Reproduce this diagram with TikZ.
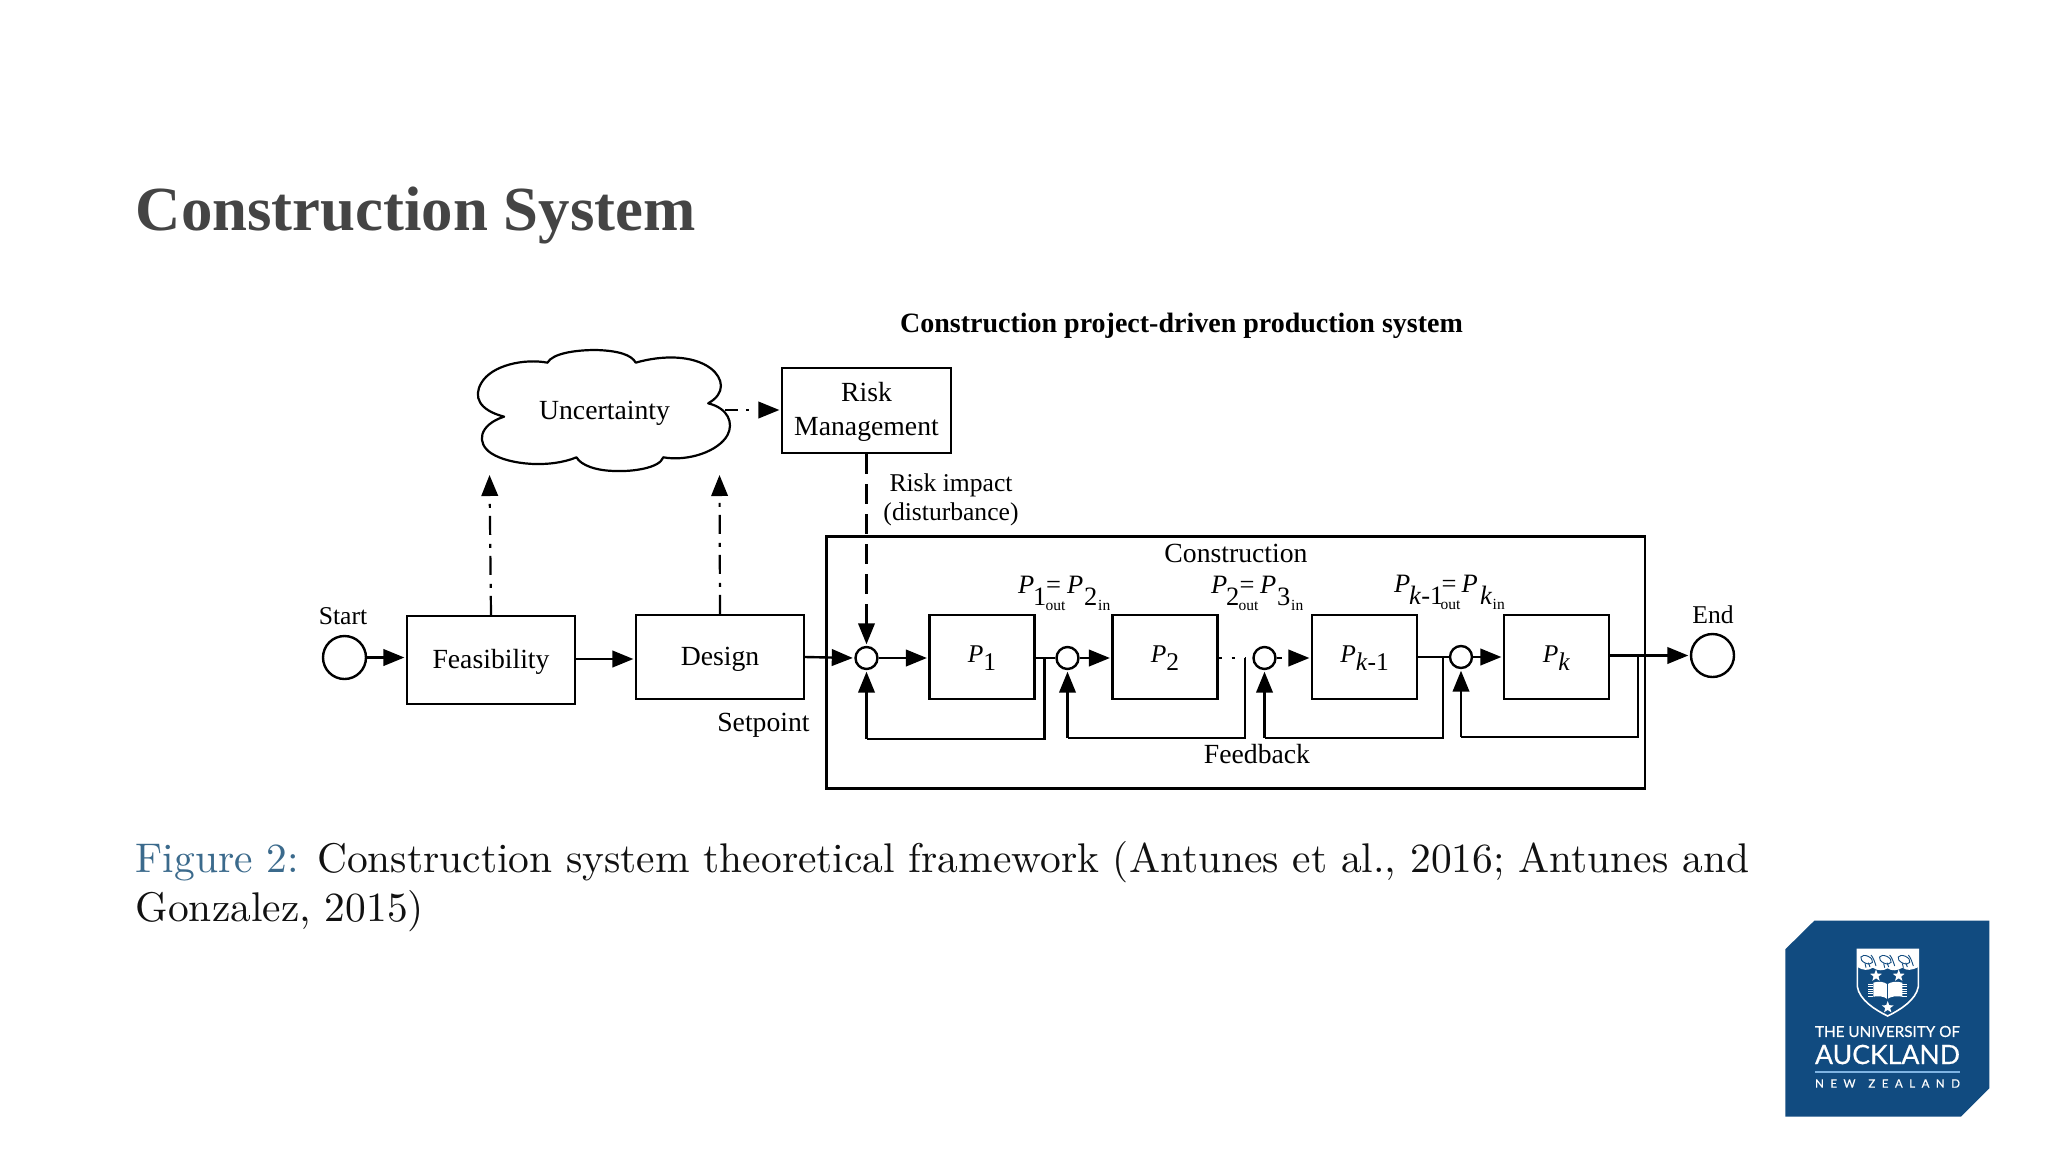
\documentclass[tikz,border=0pt]{standalone}
\usepackage{fontspec}
\usepackage{graphicx}
\usetikzlibrary{arrows.meta,shapes.geometric}
\newfontfamily\tms{Liberation Serif}
\newfontfamily\capfont{lmroman10-regular.otf}
\newfontfamily\logofont[FakeBold=0.5]{Lato}
\newfontfamily\logospaced[LetterSpace=55,FakeBold=0.5]{Lato}
\definecolor{titlegray}{HTML}{444444}
\definecolor{capgray}{HTML}{111111}
\definecolor{figblue}{HTML}{3B6A8C}
\definecolor{logoblue}{HTML}{114B80}
\definecolor{logoline}{HTML}{7FB4E3}
\newcommand\figfont{\tms\fontsize{27.7}{33}\selectfont}
\newcommand\boxpfont{\tms\fontsize{25.5}{30}\selectfont}
\newcommand\chainfont{\tms\fontsize{26.5}{30}\selectfont}
\newcommand\subfont{\fontsize{15.5}{16}\selectfont}
\newcommand\putat[2]{\rlap{\hspace{#1}#2}}
\newcommand\lowered[1]{\raisebox{-12pt}{#1}}
\newcommand\loweredsub[1]{\raisebox{-17pt}{\subfont #1}}
% #1 first index, #2 second index, offsets: #3 first index, #4 out, #5 =, #6 second P, #7 second index, #8 in
\newcommand\chainlabel[8]{\putat{0pt}{\textit{P}}\putat{#3}{\lowered{#1}}\putat{#4}{\loweredsub{out}}\putat{#5}{=}\putat{#6}{\textit{P}}\putat{#7}{\lowered{#2}}\putat{#8}{\loweredsub{in}}\hspace{95pt}}
\tikzset{
  figtext/.style={font=\figfont,inner sep=0pt,text=black},
  basetext/.style={figtext,anchor=base},
  smalltext/.style={basetext,font=\tms\fontsize{25.6}{30}\selectfont},
  boxnode/.style={draw,line width=2.2pt,inner sep=0pt,font=\figfont,align=center},
  procnode/.style={boxnode,font=\boxpfont,minimum width=105pt,minimum height=84pt,text height=14pt,text depth=4pt},
  plainline/.style={line width=2.2pt},
  arrowline/.style={line width=2.4pt,-{Triangle[length=21pt,width=16.5pt]},shorten >=1.5pt},
  sumnode/.style={draw,circle,line width=2.4pt,minimum size=22pt,inner sep=0pt},
  endnode/.style={draw,circle,line width=2.4pt,minimum size=43pt,inner sep=0pt},
  dashdotline/.style={line width=2.2pt,dash pattern=on 19pt off 8pt on 4pt off 9pt},
  logostar/.style={star,star points=5,star point ratio=2.4,fill=white,inner sep=0pt,minimum size=12.5pt},
}
\begin{document}
\begin{tikzpicture}[x=1pt,y=-1pt]
\useasboundingbox (0,0) rectangle (2048,1152);
\fill[white] (0,0) rectangle (2048,1152);
% slide title
\node[anchor=base west,inner sep=0pt,text=titlegray,font=\tms\bfseries\fontsize{62.8}{63}\selectfont] (slidetitle) at (135.5,230.5) {Construction System};
% figure title
\node[basetext,font=\tms\bfseries\fontsize{28}{33}\selectfont] (figtitle) at (1181.5,332) {Construction project-driven production system};
% cloud
\begin{scope}[shift={(300,300)},x=0.5102pt,y=-0.3333pt]
\draw[line width=2.2pt,line join=round] (400,350)
  .. controls (350,330) and (340,290) .. (355,250)
  .. controls (375,195) and (440,175) .. (485,188)
  .. controls (495,160) and (540,150) .. (580,150)
  .. controls (625,152) and (650,165) .. (658,188)
  .. controls (710,165) and (770,165) .. (805,205)
  .. controls (830,235) and (835,280) .. (800,310)
  .. controls (840,325) and (850,370) .. (838,405)
  .. controls (820,455) and (760,485) .. (712,472)
  .. controls (705,505) and (650,515) .. (620,513)
  .. controls (580,513) and (550,495) .. (542,472)
  .. controls (490,505) and (410,495) .. (375,460)
  .. controls (345,430) and (350,375) .. (400,350) -- cycle;
\end{scope}
\coordinate (cloudright) at (725,410);
\coordinate (cloudbelowa) at (489.5,473.5);
\coordinate (cloudbelowb) at (719.5,473.5);
\coordinate (fdlevel) at (600,659);
\node[basetext] (uncertainty) at (604.5,419) {Uncertainty};
% boxes
\node[boxnode,minimum width=168pt,minimum height=88pt,text height=19pt,text depth=1.5pt] (feas) at (491,660) {Feasibility};
\node[boxnode,minimum width=168pt,minimum height=84pt,text height=18pt,text depth=2pt] (design) at (720,657) {Design};
\node[boxnode,minimum width=169pt,minimum height=85pt] (risk) at (866.5,410.5) {\rule{0pt}{22pt}Risk\\[1pt]Management};
\node[draw,line width=2.2pt,minimum width=818.5pt,minimum height=252pt,inner sep=0pt] (constr) at (1235.75,662.5) {};
\node[procnode] (p1) at (982,657) {\textit{P}\raisebox{-8pt}{1}};
\node[procnode] (p2) at (1165,657) {\textit{P}\raisebox{-8pt}{2}};
\node[procnode] (pk1) at (1364.5,657) {\textit{P}\raisebox{-8pt}{\textit{k}-1}};
\node[procnode] (pk) at (1556.5,657) {\textit{P}\raisebox{-8pt}{\textit{k}}};
% circles
\node[endnode] (start) at (344.5,657.5) {};
\node[endnode] (end) at (1712.5,655.5) {};
\node[sumnode] (s1) at (866.5,658) {};
\node[sumnode] (s2) at (1067.5,658) {};
\node[sumnode] (s3) at (1264.5,658) {};
\node[sumnode] (s4) at (1461,657) {};
% labels
\node[smalltext] (startlabel) at (343,624) {Start};
\node[smalltext] (endlabel) at (1713,623) {End};
\node[basetext] (setpoint) at (763.5,731) {Setpoint};
\node[smalltext] (riskimpact) at (951,491.5) {Risk impact};
\node[smalltext] (disturbance) at (951,520) {(disturbance)};
\node[basetext] (constrlabel) at (1236,562) {Construction};
\node[basetext] (feedback) at (1257,763.5) {Feedback};
\node[figtext,font=\chainfont,anchor=base west] (chaina) at (1017.5,593.5) {\chainlabel{1}{2}{15pt}{27.5pt}{28pt}{49pt}{66pt}{80pt}};
\node[figtext,font=\chainfont,anchor=base west] (chainb) at (1210.5,593.5) {\chainlabel{2}{3}{15pt}{27.5pt}{28.5pt}{49pt}{66pt}{80pt}};
\node[figtext,font=\chainfont,anchor=base west] (chainc) at (1393.5,592) {\chainlabel{\textit{k}-1}{\textit{k}}{15pt}{46.5pt}{47.5pt}{67.5pt}{86pt}{98.5pt}};
% forward connectors
\draw[arrowline] (start.east) -- (start.east -| feas.west);
\draw[arrowline] (fdlevel -| feas.east) -- (fdlevel -| design.west);
\draw[arrowline] (design.east) -- (s1.west);
\draw[arrowline] (s1.east) -- (s1.east -| p1.west);
\draw[plainline] (p1.east |- s2.west) -- (s2.west);
\draw[arrowline] (s2.east) -- (s2.east -| p2.west);
\draw[arrowline,dash pattern=on 5pt off 40pt] (s3.east) -- (s3.east -| pk1.west);
\draw[plainline] (pk1.east |- s4.west) -- (s4.west);
\draw[arrowline] (s4.east) -- (s4.east -| pk.west);
\draw[arrowline] (pk.east |- end.west) -- (end.west);
% dashed connectors
\draw[arrowline,dashdotline] (feas.north) -- (cloudbelowa);
\draw[arrowline,dashdotline] (design.north) -- (cloudbelowb);
\draw[arrowline,line width=2.2pt,dash pattern=on 13pt off 8pt on 3pt off 40pt] (cloudright) -- (risk.west |- cloudright);
\draw[arrowline,line width=2.2pt,dash pattern=on 20pt off 10pt on 20pt off 10pt on 20pt off 10pt on 20pt off 10pt on 20pt off 10pt on 60pt] (risk.south) -- (s1.north);
% feedback loops
\coordinate (j1) at (1044.5,658); \coordinate (b1) at (1044.5,739);
\coordinate (j2) at (1245,658); \coordinate (b2) at (1245,738);
\coordinate (j3) at (1443,657); \coordinate (b3) at (1443,738);
\coordinate (j4) at (1638,656); \coordinate (b4) at (1638,737);
\draw[plainline,line cap=butt,dash pattern=on 3pt off 10pt] (p2.east |- j2) -- (j2);
\draw[plainline] (j1) -- (b1) -- (b1 -| s1.south);
\draw[arrowline] (b1 -| s1.south) -- (s1.south);
\draw[plainline] (j2) -- (b2) -- (b2 -| s2.south);
\draw[arrowline] (b2 -| s2.south) -- (s2.south);
\draw[plainline] (j3) -- (b3) -- (b3 -| s3.south);
\draw[arrowline] (b3 -| s3.south) -- (s3.south);
\draw[plainline] (j4) -- (b4) -- (b4 -| s4.south);
\draw[arrowline] (b4 -| s4.south) -- (s4.south);
% caption
\node[anchor=base west,inner sep=0pt,text=capgray,font=\capfont\fontsize{41.46}{50}\selectfont] (capa) at (135.5,872) {\textcolor{figblue}{Figure 2:} Construction system theoretical framework (Antunes et al., 2016; Antunes and};
\node[anchor=base west,inner sep=0pt,text=capgray,font=\capfont\fontsize{41.46}{50}\selectfont] (capb) at (135.5,921.5) {Gonzalez, 2015)};
% logo
\fill[logoblue] (1785.3,949.3) -- (1814.3,920.7) -- (1989.3,920.7) -- (1989.3,1088.3) -- (1961,1116.7) -- (1785.3,1116.7) -- cycle;
\begin{scope}[shift={(1850,945)},x=0.3333pt,y=-0.3333pt]
\draw[white,line width=1.6pt,fill=logoblue] (22,13) -- (205,13) -- (205,125) .. controls (198,165) and (150,195) .. (113,213) .. controls (76,195) and (28,165) .. (22,125) -- cycle;
\fill[white] (22,13) -- (205,13) -- (205,66) .. controls (185,76) and (170,78) .. (158,68) .. controls (140,78) and (125,78) .. (113,70) .. controls (100,78) and (82,78) .. (68,68) .. controls (55,78) and (38,76) .. (22,66) -- cycle;
\foreach \bx in {0,56,112}{
  \begin{scope}[xshift=\bx*0.3333pt]
  \draw[logoblue,line width=0.9pt,rotate around={-25:(50,44)}] (50,44) ellipse (19 and 11);
  \draw[logoblue,line width=0.9pt] (63,30) .. controls (70,38) and (74,50) .. (78,63);
  \draw[logoblue,line width=0.9pt] (45,55) -- (48,68) (55,53) -- (60,66);
  \end{scope}
}
% book
\fill[white] (70,113) .. controls (85,108) and (103,110) .. (112,118) .. controls (122,110) and (140,108) .. (157,113) -- (157,155) .. controls (140,152) and (122,154) .. (112,162) .. controls (103,154) and (85,152) .. (70,155) -- cycle;
\draw[logoblue,line width=0.7pt] (112,118) -- (112,162);
\foreach \hy in {118,125,132,139,146,153}{
  \draw[white,line width=0.8pt] (55,\hy) -- (70,\hy);
  \draw[white,line width=0.8pt] (157,\hy) -- (172,\hy);
}
\end{scope}
\node[logostar] (stara) at (1876,975.7) {};
\node[logostar] (starb) at (1898.7,975.7) {};
\node[logostar] (starc) at (1887.7,1007.3) {};
\node[text=white,inner sep=0pt] (logoa) at (1887.5,1031.5) {\resizebox{145pt}{!}{\logofont THE UNIVERSITY OF}};
\node[text=white,inner sep=0pt] (logob) at (1887.5,1054.5) {\resizebox{145pt}{!}{\logofont AUCKLAND}};
\draw[logoline,line width=1.6pt] (1815,1072) -- (1960,1072);
\node[text=white,inner sep=0pt] (logoc) at (1887.5,1083.5) {\resizebox{145pt}{!}{\logospaced NEW\hspace{1.1em}ZEALAND}};
\end{tikzpicture}
\end{document}
